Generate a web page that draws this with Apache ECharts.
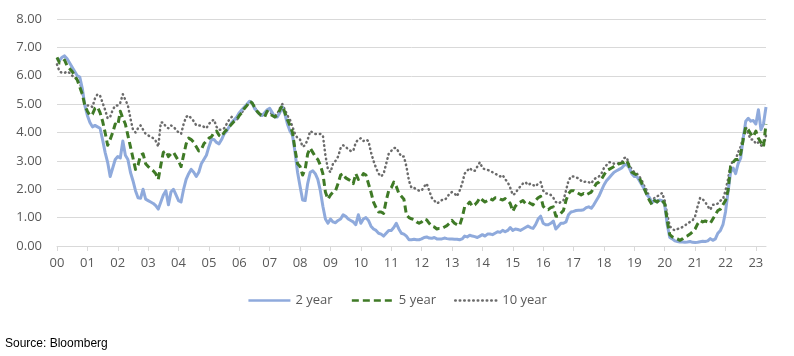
<!DOCTYPE html>
<html>
<head>
<meta charset="utf-8">
<script src="https://cdn.jsdelivr.net/npm/echarts@6/dist/echarts.min.js"></script>
<style>
html,body{margin:0;padding:0;background:#fff;}
#chart{width:794px;height:356px;}
</style>
</head>
<body>
<div id="chart"></div>
<script>
// Year tick labels (one per January)
var yearLabels = ['00','01','02','03','04','05','06','07','08','09','10','11','12','13','14','15','16','17','18','19','20','21','22','23'];
var monthsInLastYear = 5; // Jan-May 2023

var seriesNames = ['2 year', '5 year', '10 year'];

// Monthly yields, Jan 2000 - May 2023
var twoYear = [
  6.6,6.55,6.65,6.7,6.6,6.45,6.3,6.15,6.0,5.95,5.55,4.95,
  4.6,4.35,4.2,4.25,4.2,4.15,3.75,3.3,2.95,2.45,2.75,3.05,
  3.15,3.1,3.7,3.2,3.05,2.6,2.3,1.95,1.7,1.68,2.0,1.65,
  1.6,1.55,1.5,1.42,1.3,1.55,1.8,1.95,1.45,1.9,2.0,1.8,
  1.6,1.55,2.0,2.35,2.55,2.7,2.6,2.45,2.6,2.9,3.05,3.2,
  3.5,3.75,3.75,3.65,3.6,3.75,3.95,4.05,4.2,4.35,4.45,4.55,
  4.7,4.8,4.9,5.0,5.1,5.05,4.85,4.75,4.65,4.6,4.7,4.8,
  4.85,4.7,4.55,4.55,4.7,4.9,4.65,4.3,4.05,3.9,3.3,2.6,
  2.1,1.62,1.6,2.2,2.6,2.65,2.55,2.35,1.95,1.4,0.95,0.8,
  0.95,0.85,0.82,0.9,0.95,1.1,1.05,0.95,0.9,0.85,0.75,1.1,
  0.8,0.95,1.0,0.9,0.7,0.6,0.55,0.45,0.42,0.35,0.45,0.55,
  0.55,0.65,0.8,0.6,0.45,0.42,0.35,0.22,0.22,0.24,0.22,0.22,
  0.25,0.3,0.32,0.28,0.27,0.3,0.25,0.25,0.25,0.28,0.26,0.25,
  0.25,0.24,0.24,0.22,0.25,0.35,0.32,0.38,0.35,0.33,0.3,0.35,
  0.4,0.35,0.42,0.42,0.4,0.45,0.5,0.48,0.55,0.5,0.55,0.65,
  0.55,0.6,0.58,0.55,0.6,0.65,0.7,0.65,0.62,0.75,0.95,1.05,
  0.8,0.75,0.75,0.8,0.88,0.6,0.7,0.8,0.8,0.85,1.1,1.2,
  1.22,1.25,1.26,1.26,1.28,1.35,1.38,1.33,1.45,1.6,1.75,1.95,
  2.15,2.3,2.4,2.5,2.6,2.65,2.7,2.75,2.85,2.88,2.75,2.55,
  2.45,2.45,2.3,2.15,2.0,1.8,1.7,1.52,1.62,1.55,1.62,1.6,
  1.45,0.75,0.3,0.25,0.18,0.16,0.14,0.14,0.13,0.14,0.16,0.13,
  0.12,0.13,0.15,0.17,0.16,0.18,0.26,0.2,0.25,0.45,0.55,0.75,
  1.2,1.9,2.6,2.75,2.55,2.9,3.1,3.8,4.4,4.5,4.4,4.42,
  4.3,4.8,4.1,4.3,4.9
];
var fiveYear = [
  6.65,6.45,6.45,6.55,6.35,6.25,6.15,6.0,5.85,5.6,5.35,4.95,
  4.75,4.6,4.65,4.85,4.9,4.7,4.4,4.0,3.55,3.75,4.0,4.3,
  4.25,4.75,4.5,4.3,3.9,3.5,3.1,2.7,2.85,3.2,3.25,2.9,
  2.8,2.72,2.65,2.55,2.35,2.85,3.3,3.35,3.15,3.25,3.3,3.15,
  3.0,2.8,3.2,3.6,3.8,3.75,3.65,3.5,3.35,3.4,3.6,3.7,
  3.8,3.85,4.0,4.05,3.9,3.85,4.0,4.1,4.2,4.3,4.4,4.45,
  4.6,4.7,4.85,4.95,5.1,5.05,4.9,4.75,4.65,4.6,4.55,4.75,
  4.65,4.6,4.55,4.6,4.8,4.95,4.7,4.45,4.25,4.0,3.4,2.9,
  2.8,2.5,2.7,3.25,3.45,3.3,3.15,3.05,2.85,2.55,1.9,1.65,
  1.8,1.9,1.95,2.2,2.5,2.55,2.4,2.35,2.3,2.2,2.55,2.35,
  2.4,2.55,2.5,2.2,1.9,1.55,1.35,1.2,1.2,1.15,1.6,1.95,
  2.05,2.25,2.1,1.85,1.75,1.65,1.1,1.0,0.96,0.93,0.85,0.8,
  0.85,0.95,0.92,0.8,0.7,0.67,0.6,0.62,0.62,0.67,0.72,0.8,
  0.9,0.8,0.75,0.72,1.0,1.38,1.45,1.55,1.4,1.45,1.55,1.7,
  1.62,1.55,1.6,1.67,1.62,1.7,1.7,1.65,1.62,1.67,1.6,1.5,
  1.22,1.4,1.5,1.55,1.6,1.5,1.55,1.5,1.45,1.6,1.7,1.75,
  1.4,1.3,1.28,1.35,1.38,1.05,1.05,1.15,1.25,1.6,1.85,1.95,
  1.95,1.9,1.85,1.8,1.85,1.8,1.85,1.9,2.05,2.2,2.25,2.35,
  2.5,2.65,2.7,2.75,2.8,2.85,2.9,2.92,2.95,3.02,2.8,2.6,
  2.55,2.5,2.4,2.2,2.0,1.8,1.6,1.45,1.6,1.55,1.65,1.6,
  1.5,0.9,0.4,0.32,0.28,0.25,0.2,0.25,0.32,0.36,0.42,0.5,
  0.6,0.78,0.9,0.85,0.88,0.85,0.8,0.95,1.1,1.25,1.3,1.45,
  1.6,1.95,2.8,2.95,3.05,3.05,3.25,3.75,4.2,4.1,3.95,3.85,
  4.05,3.8,3.65,3.5,4.3
];
var tenYear = [
  6.4,6.15,6.1,6.1,6.15,6.1,6.0,5.95,5.85,5.8,5.4,5.0,
  4.95,4.95,4.9,5.2,5.35,5.3,5.05,4.8,4.5,4.55,4.8,4.95,
  4.95,5.05,5.35,5.15,4.95,4.5,4.1,4.0,4.15,4.25,4.1,3.95,
  3.9,3.85,3.8,3.7,3.5,4.35,4.35,4.2,4.15,4.25,4.2,4.1,
  4.0,3.95,4.3,4.55,4.6,4.5,4.4,4.25,4.25,4.25,4.2,4.15,
  4.3,4.4,4.45,4.2,4.1,4.1,4.15,4.3,4.45,4.55,4.4,4.45,
  4.6,4.7,4.85,4.95,5.1,5.05,4.9,4.75,4.6,4.6,4.6,4.75,
  4.7,4.65,4.6,4.65,4.85,5.0,4.8,4.6,4.45,4.2,3.95,3.8,
  3.75,3.5,3.55,3.75,4.05,4.0,3.95,3.95,3.95,3.9,3.2,2.7,
  2.6,2.9,3.0,3.15,3.45,3.55,3.5,3.4,3.35,3.35,3.65,3.75,
  3.8,3.7,3.75,3.7,3.3,3.0,2.75,2.55,2.45,2.55,2.9,3.25,
  3.35,3.45,3.45,3.3,3.15,3.15,2.8,2.3,2.05,2.05,2.0,1.95,
  1.95,2.1,2.2,1.95,1.7,1.6,1.5,1.55,1.62,1.62,1.7,1.85,
  1.9,1.85,1.75,1.95,2.2,2.55,2.65,2.75,2.65,2.65,2.8,2.95,
  2.75,2.7,2.68,2.65,2.6,2.55,2.5,2.45,2.5,2.35,2.25,2.05,
  1.8,1.85,2.0,2.1,2.2,2.25,2.15,2.2,2.15,2.1,2.2,2.25,
  1.95,1.85,1.85,1.8,1.7,1.55,1.5,1.55,1.6,1.95,2.3,2.45,
  2.45,2.42,2.38,2.3,2.25,2.28,2.25,2.2,2.35,2.4,2.45,2.55,
  2.75,2.85,2.95,2.95,2.9,2.9,2.92,2.95,3.1,3.12,2.85,2.7,
  2.6,2.55,2.45,2.3,2.1,1.95,1.7,1.55,1.7,1.75,1.8,1.87,
  1.6,1.1,0.7,0.6,0.55,0.6,0.62,0.67,0.72,0.8,0.85,0.9,
  1.05,1.4,1.7,1.65,1.55,1.4,1.28,1.45,1.45,1.5,1.6,1.65,
  1.95,2.35,2.85,3.0,3.05,3.3,3.5,3.85,4.2,3.95,3.75,3.75,
  3.6,3.65,3.55,3.5,3.9
];

// Build monthly categories from the year labels
var categories = [];
for (var y = 0; y < yearLabels.length; y++) {
  var nm = (y === yearLabels.length - 1) ? monthsInLastYear : 12;
  for (var m = 0; m < nm; m++) categories.push(yearLabels[y] + '-' + (m + 1));
}

var chart = echarts.init(document.getElementById('chart'), null, {renderer: 'canvas'});
var labelFont = '"Liberation Sans Narrow", "Open Sans", "Noto Sans", sans-serif';
var isJan = function (index) { return index % 12 === 0; };

chart.setOption({
  animation: false,
  backgroundColor: '#ffffff',
  grid: {left: 57, right: 28, top: 19, bottom: 110, containLabel: false},
  legend: {
    top: 289,
    left: 'center',
    itemWidth: 42,
    itemHeight: 10,
    itemGap: 18,
    itemStyle: {opacity: 0},
    lineStyle: {width: 2.5},
    textStyle: {color: '#595959', fontSize: 13, fontFamily: labelFont},
    data: seriesNames
  },
  xAxis: {
    type: 'category',
    boundaryGap: false,
    data: categories,
    axisLine: {lineStyle: {color: '#d9d9d9', width: 1}},
    axisTick: {show: true, interval: isJan, length: 5, lineStyle: {color: '#d9d9d9'}},
    axisLabel: {
      interval: isJan,
      color: '#595959',
      fontSize: 13,
      fontFamily: labelFont,
      margin: 11,
      formatter: function (v) { return v.split('-')[0]; }
    },
    splitLine: {show: false}
  },
  yAxis: {
    type: 'value',
    min: 0,
    max: 8,
    interval: 1,
    axisLine: {show: false},
    axisTick: {show: false},
    axisLabel: {
      color: '#595959',
      fontSize: 13,
      fontFamily: labelFont,
      margin: 15,
      formatter: function (v) { return v.toFixed(2); }
    },
    splitLine: {lineStyle: {color: '#d9d9d9', width: 1}}
  },
  series: [
    {
      name: seriesNames[0], type: 'line', data: twoYear, symbol: 'none', z: 3,
      itemStyle: {color: '#8faadc'},
      lineStyle: {color: '#8faadc', width: 3, type: 'solid', join: 'round'}
    },
    {
      name: seriesNames[1], type: 'line', data: fiveYear, symbol: 'none', z: 4,
      itemStyle: {color: '#3f7a26'},
      lineStyle: {color: '#3f7a26', width: 3, type: [7, 4], join: 'round'}
    },
    {
      name: seriesNames[2], type: 'line', data: tenYear, symbol: 'none', z: 2,
      itemStyle: {color: '#6b6b6b'},
      lineStyle: {color: '#6b6b6b', width: 2.5, type: [0.5, 4], cap: 'round', join: 'round'}
    }
  ],
  graphic: [{
    type: 'text',
    left: 5,
    top: 338,
    style: {text: 'Source: Bloomberg', fill: '#000000', font: '12px "Liberation Sans", Arial, sans-serif'}
  }]
});
</script>
</body>
</html>
